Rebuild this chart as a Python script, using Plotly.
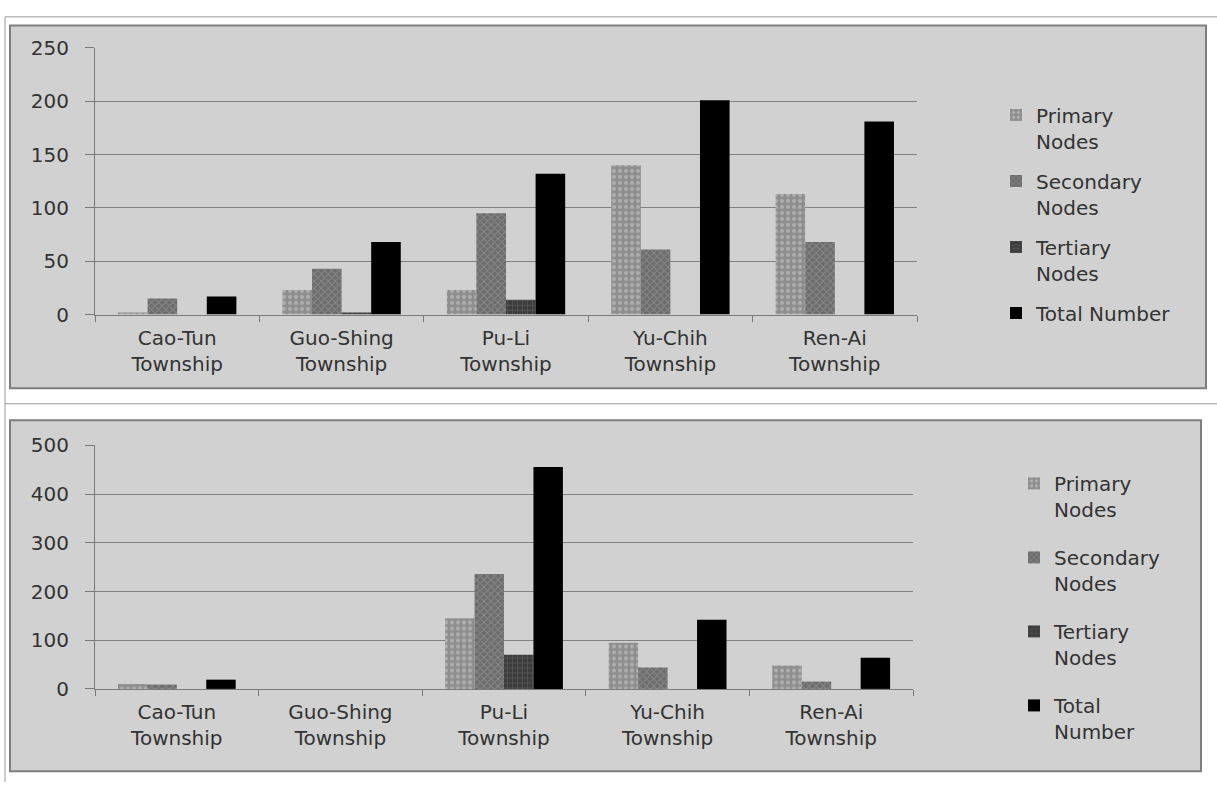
import plotly.graph_objects as go
from plotly.subplots import make_subplots

W, H = 1217, 794

townships = ["Cao-Tun<br>Township", "Guo-Shing<br>Township", "Pu-Li<br>Township",
             "Yu-Chih<br>Township", "Ren-Ai<br>Township"]

# Upper panel counts
top_primary = [2, 23, 23, 140, 113]
top_secondary = [15, 43, 95, 61, 68]
top_tertiary = [0, 2, 14, 0, 0]
top_total = [17, 68, 132, 201, 181]

# Lower panel counts
bot_primary = [10, 0, 145, 95, 48]
bot_secondary = [9, 0, 236, 44, 15]
bot_tertiary = [0, 0, 70, 0, 0]
bot_total = [19, 0, 456, 142, 64]

top_names = ["Primary<br>Nodes", "Secondary<br>Nodes", "Tertiary<br>Nodes", "Total Number"]
bot_names = ["Primary<br>Nodes", "Secondary<br>Nodes", "Tertiary<br>Nodes", "Total<br>Number"]

FONT = "DejaVu Sans"
TXT = "#333333"

styles = [
    dict(color="#8e8e8e", pattern=dict(shape=".", fgcolor="#cfcfcf", bgcolor="#8e8e8e", size=6, solidity=0.35)),
    dict(color="#6c6c6c", pattern=dict(shape="x", fgcolor="#a6a6a6", bgcolor="#6c6c6c", size=5, solidity=0.35)),
    dict(color="#3c3c3c", pattern=dict(shape="+", fgcolor="#6e6e6e", bgcolor="#3c3c3c", size=5, solidity=0.3)),
    dict(color="#000000"),
]


def px(x):
    return x / W


def py(y):
    return 1 - y / H


fig = make_subplots(rows=2, cols=1)

top_series = [top_primary, top_secondary, top_tertiary, top_total]
bot_series = [bot_primary, bot_secondary, bot_tertiary, bot_total]

for i, (name, vals) in enumerate(zip(top_names, top_series)):
    fig.add_trace(go.Bar(x=townships, y=vals, name=name, marker=styles[i],
                         marker_line_width=0, legend="legend", legendgroup=f"t{i}"),
                  row=1, col=1)
for i, (name, vals) in enumerate(zip(bot_names, bot_series)):
    fig.add_trace(go.Bar(x=townships, y=vals, name=name, marker=styles[i],
                         marker_line_width=0, legend="legend2", legendgroup=f"b{i}"),
                  row=2, col=1)

axis_common = dict(showline=True, linecolor="#7a7a7a", linewidth=1,
                   tickfont=dict(family=FONT, size=20, color=TXT))

fig.update_xaxes(type="category", tickson="boundaries", ticks="outside", ticklen=6,
                 tickcolor="#7a7a7a", showgrid=False, ticklabelstandoff=5, **axis_common)
fig.update_yaxes(ticks="outside", ticklen=9, tickcolor="#7a7a7a",
                 showgrid=True, gridcolor="#808080", gridwidth=1, zeroline=False,
                 ticklabelstandoff=12, **axis_common)

fig.update_layout(
    xaxis=dict(domain=[px(95), px(917)], anchor="y"),
    yaxis=dict(domain=[py(312), py(37)], range=[0, 250], dtick=50, anchor="x"),
    xaxis2=dict(domain=[px(95), px(913)], anchor="y2"),
    yaxis2=dict(domain=[py(698), py(447)], range=[0, 500], dtick=100, anchor="x2"),
)

legend_common = dict(font=dict(family=FONT, size=20, color=TXT), bgcolor="rgba(0,0,0,0)",
                     xanchor="left", yanchor="top", valign="top", traceorder="grouped",
                     itemwidth=30)
fig.update_layout(
    legend=dict(x=px(996), y=py(86), tracegroupgap=11, **legend_common),
    legend2=dict(x=px(1014), y=py(466), tracegroupgap=19, **legend_common),
)

shapes = [
    # page frame lines
    dict(type="line", x0=px(5), x1=1, y0=py(5), y1=py(5), line=dict(color="#9a9a9a", width=1)),
    dict(type="line", x0=px(5), x1=px(5), y0=py(5), y1=0, line=dict(color="#9a9a9a", width=1)),
    dict(type="line", x0=px(5), x1=1, y0=py(404), y1=py(404), line=dict(color="#9a9a9a", width=1)),
    # chart panels
    dict(type="rect", x0=px(10), x1=px(1206), y0=py(14), y1=py(388), layer="below",
         fillcolor="#d1d1d1", line=dict(color="#7e7e7e", width=2)),
    dict(type="rect", x0=px(10), x1=px(1201), y0=py(421), y1=py(783), layer="below",
         fillcolor="#d1d1d1", line=dict(color="#7e7e7e", width=2)),
]
for s in shapes:
    s.update(xref="paper", yref="paper")
fig.update_layout(shapes=shapes)

fig.update_layout(
    width=W, height=H, margin=dict(l=0, r=0, t=0, b=0),
    paper_bgcolor="white", plot_bgcolor="rgba(0,0,0,0)",
    barmode="group", bargap=0.28, bargroupgap=0,
    font=dict(family=FONT, color=TXT),
)

fig.write_html("out.html")
